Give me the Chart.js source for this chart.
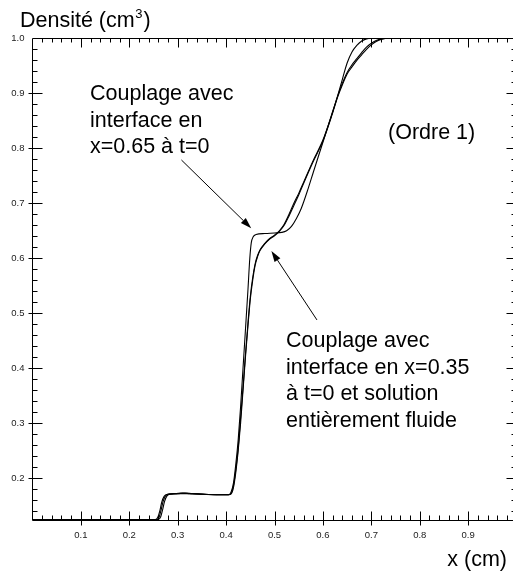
<!DOCTYPE html>
<html>
<head>
<meta charset="utf-8">
<script src="https://cdn.jsdelivr.net/npm/chart.js@4/dist/chart.umd.min.js"></script>
<style>
  html, body { margin: 0; padding: 0; background: #fff; overflow: hidden; }
  #wrap { width: 513px; height: 571px; overflow: hidden; position: relative; }
  canvas { display: block; }
</style>
</head>
<body>
<div id="wrap"><canvas id="c" width="520" height="571"></canvas></div>
<script>
// Density profiles (x in cm, density)
// Coupling with interface at x=0.65, t=0
const xA = [0, 0.254, 0.259, 0.263, 0.267, 0.272, 0.28, 0.295, 0.31, 0.325, 0.345, 0.38, 0.405, 0.41, 0.415, 0.42, 0.425, 0.43, 0.435, 0.44, 0.445, 0.449, 0.452, 0.456, 0.462, 0.48, 0.50, 0.515, 0.525, 0.535, 0.545, 0.555, 0.57, 0.58, 0.60, 0.62, 0.63, 0.64, 0.65, 0.66, 0.67, 0.68, 0.69, 0.70, 0.71, 0.72, 0.735, 0.76, 1.0];
const yA = [0.125, 0.125, 0.129, 0.140, 0.156, 0.167, 0.171, 0.172, 0.173, 0.172, 0.171, 0.170, 0.170, 0.174, 0.19, 0.225, 0.27, 0.33, 0.40, 0.47, 0.54, 0.60, 0.628, 0.639, 0.643, 0.645, 0.646, 0.647, 0.65, 0.658, 0.672, 0.69, 0.728, 0.756, 0.811, 0.866, 0.894, 0.918, 0.938, 0.952, 0.963, 0.974, 0.984, 0.991, 0.996, 0.999, 1.0, 1.0, 1.0];
// Coupling with interface at x=0.35, t=0
const xB = [0, 0.257, 0.262, 0.266, 0.27, 0.275, 0.283, 0.30, 0.315, 0.33, 0.35, 0.38, 0.405, 0.41, 0.415, 0.42, 0.425, 0.43, 0.435, 0.44, 0.445, 0.45, 0.455, 0.46, 0.465, 0.47, 0.48, 0.49, 0.50, 0.51, 0.52, 0.53, 0.54, 0.55, 0.56, 0.58, 0.60, 0.62, 0.63, 0.64, 0.65, 0.66, 0.67, 0.68, 0.69, 0.70, 1.0];
const yB = [0.125, 0.125, 0.13, 0.143, 0.158, 0.168, 0.171, 0.172, 0.173, 0.172, 0.171, 0.170, 0.170, 0.172, 0.185, 0.215, 0.255, 0.31, 0.365, 0.425, 0.48, 0.53, 0.565, 0.59, 0.605, 0.615, 0.627, 0.636, 0.642, 0.65, 0.662, 0.68, 0.70, 0.718, 0.738, 0.778, 0.815, 0.866, 0.894, 0.925, 0.955, 0.975, 0.987, 0.995, 0.999, 1.0, 1.0];
// Fully fluid solution
const xC = [0, 0.26, 0.265, 0.269, 0.273, 0.278, 0.286, 0.30, 0.315, 0.33, 0.35, 0.38, 0.405, 0.41, 0.415, 0.42, 0.425, 0.43, 0.435, 0.44, 0.445, 0.45, 0.455, 0.46, 0.465, 0.47, 0.48, 0.49, 0.50, 0.51, 0.52, 0.53, 0.54, 0.55, 0.56, 0.58, 0.60, 0.62, 0.63, 0.64, 0.65, 0.66, 0.67, 0.68, 0.69, 0.70, 0.71, 0.72, 0.74, 1.0];
const yC = [0.125, 0.125, 0.13, 0.143, 0.158, 0.168, 0.171, 0.172, 0.172, 0.172, 0.171, 0.170, 0.170, 0.171, 0.182, 0.21, 0.25, 0.30, 0.36, 0.42, 0.475, 0.525, 0.56, 0.587, 0.603, 0.614, 0.626, 0.635, 0.641, 0.649, 0.66, 0.677, 0.696, 0.715, 0.736, 0.776, 0.813, 0.864, 0.892, 0.915, 0.935, 0.948, 0.96, 0.97, 0.98, 0.988, 0.994, 0.998, 1.0, 1.0];

// Axis ticks
const xTickValues = [0.1, 0.2, 0.3, 0.4, 0.5, 0.6, 0.7, 0.8, 0.9];
const xTickLabels = ['0.1', '0.2', '0.3', '0.4', '0.5', '0.6', '0.7', '0.8', '0.9'];
const yTickValues = [0.2, 0.3, 0.4, 0.5, 0.6, 0.7, 0.8, 0.9, 1.0];
const yTickLabels = ['0.2', '0.3', '0.4', '0.5', '0.6', '0.7', '0.8', '0.9', '1.0'];

// Arrow endpoints in data units
const arrows = [
  { from: [0.3078, 0.7787], to: [0.4519, 0.6545] },
  { from: [0.5877, 0.4878], to: [0.4936, 0.6133] }
];

const toPoints = (xs, ys) => xs.map((x, i) => ({ x, y: ys[i] }));
const line = (xs, ys) => ({
  data: toPoints(xs, ys),
  borderColor: '#000',
  borderWidth: 1.1,
  pointRadius: 0,
  fill: false,
  cubicInterpolationMode: 'monotone'
});

const TEXT_FONT = "21.5px 'Liberation Sans', Arial, sans-serif";
const TICK_FONT = "9.5px 'Liberation Sans', Arial, sans-serif";

const framePlugin = {
  id: 'frame',
  afterDatasetsDraw(chart) {
    const ctx = chart.ctx;
    const { left, right, top, bottom } = chart.chartArea;
    const xs = chart.scales.x, ys = chart.scales.y;
    const L = Math.round(left) + 0.5, R = Math.round(right) + 0.5;
    const T = Math.round(top) + 0.5, B = Math.round(bottom) + 0.5;
    ctx.save();
    ctx.strokeStyle = '#000';
    ctx.lineWidth = 1;
    ctx.beginPath();
    ctx.moveTo(L, T); ctx.lineTo(R, T); ctx.lineTo(R, B); ctx.lineTo(L, B); ctx.closePath();
    ctx.stroke();

    // x ticks (bottom & top)
    ctx.beginPath();
    for (let i = 1; i < 50; i++) {
      const v = i / 50;
      const px = Math.round(xs.getPixelForValue(v)) + 0.5;
      const major = i % 5 === 0;
      if (major) {
        ctx.moveTo(px, B + 5); ctx.lineTo(px, B - 9);
        ctx.moveTo(px, T); ctx.lineTo(px, T + 9);
      } else {
        ctx.moveTo(px, B); ctx.lineTo(px, B - 5);
        ctx.moveTo(px, T); ctx.lineTo(px, T + 4);
      }
    }
    // y ticks (left & right)
    for (let i = 7; i < 50; i++) {
      const v = i / 50;
      if (v <= ys.min) continue;
      const py = Math.round(ys.getPixelForValue(v)) + 0.5;
      const major = i % 5 === 0;
      if (major) {
        ctx.moveTo(L - 4, py); ctx.lineTo(L + 10, py);
        ctx.moveTo(R, py); ctx.lineTo(R - 11, py);
      } else {
        ctx.moveTo(L, py); ctx.lineTo(L + 5, py);
        ctx.moveTo(R, py); ctx.lineTo(R - 6, py);
      }
    }
    ctx.stroke();

    // tick labels
    ctx.fillStyle = '#222';
    ctx.font = TICK_FONT;
    ctx.textAlign = 'center';
    ctx.textBaseline = 'middle';
    xTickValues.forEach((v, i) => {
      ctx.fillText(xTickLabels[i], xs.getPixelForValue(v), B + 15);
    });
    ctx.textAlign = 'right';
    yTickValues.forEach((v, i) => {
      ctx.fillText(yTickLabels[i], L - 8, ys.getPixelForValue(v) + 0.5);
    });

    // axis titles
    ctx.fillStyle = '#000';
    ctx.textBaseline = 'alphabetic';
    ctx.textAlign = 'left';
    ctx.font = TEXT_FONT;
    const t1 = 'Densité (cm';
    ctx.fillText(t1, 20, 27);
    let w = ctx.measureText(t1).width;
    ctx.font = "13px 'Liberation Sans', Arial, sans-serif";
    ctx.fillText('3', 20 + w + 0.5, 18);
    const w3 = ctx.measureText('3').width;
    ctx.font = TEXT_FONT;
    ctx.fillText(')', 20 + w + w3 + 1.5, 27);
    ctx.textAlign = 'right';
    ctx.fillText('x (cm)', 507, 566);

    // annotations
    ctx.textAlign = 'left';
    ['Couplage avec', 'interface en', 'x=0.65 à t=0'].forEach((s, i) => ctx.fillText(s, 90, 100 + i * 26.7));
    ctx.fillText('(Ordre 1)', 388, 139);
    ['Couplage avec', 'interface en x=0.35', 'à t=0 et solution', 'entièrement fluide']
      .forEach((s, i) => ctx.fillText(s, 286, 347 + i * 26.5));

    // arrows
    arrows.forEach(a => {
      const x0 = xs.getPixelForValue(a.from[0]), y0 = ys.getPixelForValue(a.from[1]);
      const x1 = xs.getPixelForValue(a.to[0]), y1 = ys.getPixelForValue(a.to[1]);
      const ang = Math.atan2(y1 - y0, x1 - x0);
      const hl = 11, hw = 3.5;
      ctx.beginPath();
      ctx.moveTo(x0, y0);
      ctx.lineTo(x1 - hl * Math.cos(ang), y1 - hl * Math.sin(ang));
      ctx.stroke();
      ctx.beginPath();
      ctx.moveTo(x1, y1);
      ctx.lineTo(x1 - hl * Math.cos(ang) + hw * Math.sin(ang), y1 - hl * Math.sin(ang) - hw * Math.cos(ang));
      ctx.lineTo(x1 - hl * Math.cos(ang) - hw * Math.sin(ang), y1 - hl * Math.sin(ang) + hw * Math.cos(ang));
      ctx.closePath();
      ctx.fill();
    });
    ctx.restore();
  }
};

new Chart(document.getElementById('c'), {
  type: 'line',
  data: { datasets: [line(xA, yA), line(xB, yB), line(xC, yC)] },
  options: {
    responsive: false,
    animation: false,
    devicePixelRatio: 1,
    layout: { padding: { left: 32.4, top: 38.3, right: 3.4, bottom: 51 } },
    plugins: { legend: { display: false }, tooltip: { enabled: false } },
    scales: {
      x: { type: 'linear', min: 0, max: 1, display: false },
      y: { type: 'linear', min: 0.124, max: 1.0, display: false }
    }
  },
  plugins: [framePlugin]
});
</script>
</body>
</html>
